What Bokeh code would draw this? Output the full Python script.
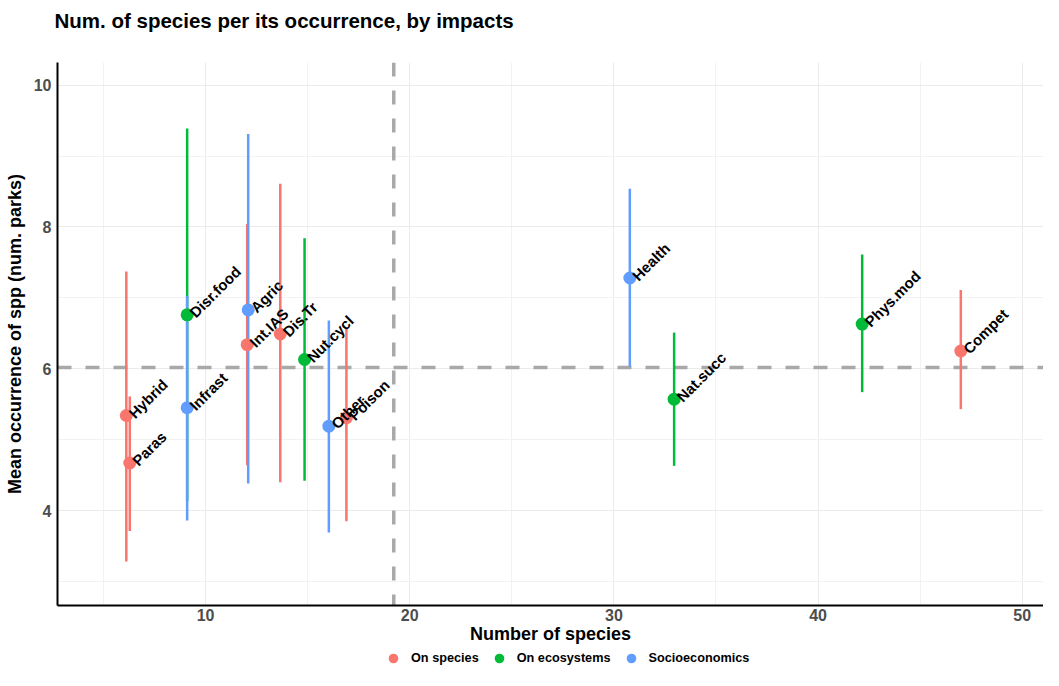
import math
from bokeh.plotting import figure
from bokeh.layouts import column
from bokeh.models import (Range1d, FixedTicker, ColumnDataSource, Span,
                          Legend, LegendItem, Title)
from bokeh.core.properties import value
from bokeh.embed import file_html
from bokeh.resources import INLINE

# ---------------- data ----------------
impacts = ["Hybrid", "Paras", "Disr.food", "Infrast", "Agric", "Int.IAS",
           "Dis.Tr", "Nut.cycl", "Other", "Poison", "Health", "Nat.succ",
           "Phys.mod", "Compet"]
groups = ["On species", "On species", "On ecosystems", "Socioeconomics",
          "Socioeconomics", "On species", "On species", "On ecosystems",
          "Socioeconomics", "On species", "Socioeconomics", "On ecosystems",
          "On ecosystems", "On species"]
n_species = [6.12, 6.29, 9.10, 9.10, 12.09, 12.04, 13.66, 14.85, 16.04,
             16.90, 30.78, 32.95, 42.16, 46.99]
mean_occ = [5.34, 4.67, 6.76, 5.45, 6.83, 6.34, 6.49, 6.13, 5.19, 5.31,
            7.28, 5.57, 6.63, 6.25]
occ_low = [3.28, 3.71, 4.13, 3.86, 4.38, 4.64, 4.40, 4.42, 3.69, 3.85,
           6.03, 4.63, 5.67, 5.43]
occ_high = [7.37, 5.61, 9.39, 7.03, 9.31, 8.04, 8.61, 7.84, 6.68, 6.58,
            8.54, 6.51, 7.61, 7.11]

group_names = ["On species", "On ecosystems", "Socioeconomics"]
group_colors = ["#F8766D", "#00BA38", "#619CFF"]

x_ticks = [10, 20, 30, 40, 50]
x_minor = [5, 15, 25, 35, 45]
y_ticks = [4, 6, 8, 10]
y_minor = [3, 5, 7, 9]

FONT = "Liberation Sans"

mean_x = sum(n_species) / len(n_species)
mean_y = sum(mean_occ) / len(mean_occ)

# ---------------- main figure ----------------
p = figure(width=1043, height=646, output_backend="svg", toolbar_location=None,
           x_range=Range1d(2.75, 51.04), y_range=Range1d(2.66, 10.32),
           min_border_left=57, min_border_right=0, min_border_top=62,
           min_border_bottom=40, background_fill_color="white",
           border_fill_color="white", outline_line_color=None)

# spacer between title and plot frame (added first -> nearest the frame)
p.add_layout(Title(text=" ", text_font_size="1px", standoff=18), "above")

p.title.text = "Num. of species per its occurrence, by impacts"
p.title.text_font = FONT
p.title.text_font_size = "20.5px"
p.title.text_font_style = "bold"
p.title.text_color = "black"
p.title.align = "left"
p.title.vertical_align = "top"
p.title.offset = -3
p.title.standoff = 16

for ax in (p.xaxis[0], p.yaxis[0]):
    ax.axis_line_color = "black"
    ax.axis_line_width = 2
    ax.major_tick_line_color = None
    ax.minor_tick_line_color = None
    ax.major_tick_out = 0
    ax.major_tick_in = 0
    ax.minor_tick_out = 0
    ax.minor_tick_in = 0
    ax.major_label_text_font = FONT
    ax.major_label_text_font_size = "16px"
    ax.major_label_text_font_style = "bold"
    ax.major_label_text_color = "#4D4D4D"
    ax.axis_label_text_font = FONT
    ax.axis_label_text_font_size = "18px"
    ax.axis_label_text_font_style = "bold"
    ax.axis_label_text_color = "black"

p.xaxis.axis_label = "Number of species"
p.yaxis.axis_label = "Mean occurrence of spp (num. parks)"
p.xaxis.ticker = FixedTicker(ticks=x_ticks, minor_ticks=x_minor)
p.yaxis.ticker = FixedTicker(ticks=y_ticks, minor_ticks=y_minor)
p.xaxis.major_label_standoff = 3
p.xaxis.axis_label_standoff = 0
p.yaxis.major_label_standoff = 6
p.yaxis.axis_label_standoff = 6

for g in (p.xgrid[0], p.ygrid[0]):
    g.grid_line_color = "#EBEBEB"
    g.grid_line_width = 1
    g.minor_grid_line_color = "#F2F2F2"
    g.minor_grid_line_width = 1

# reference lines (means)
p.add_layout(Span(location=mean_y, dimension="width", line_color="#A9A9A9",
                  line_width=3.5, line_dash="14 14", level="underlay"))
p.add_layout(Span(location=mean_x, dimension="height", line_color="#A9A9A9",
                  line_width=3.5, line_dash="14 14", level="underlay"))

# ---------------- glyphs ----------------
sources = {}
for gname in group_names:
    idx = [i for i, g in enumerate(groups) if g == gname]
    sources[gname] = ColumnDataSource(dict(
        x=[n_species[i] for i in idx],
        y=[mean_occ[i] for i in idx],
        lo=[occ_low[i] for i in idx],
        hi=[occ_high[i] for i in idx],
        lab=[impacts[i] for i in idx],
    ))

for gname, col in zip(group_names, group_colors):
    p.segment(x0="x", y0="lo", x1="x", y1="hi", source=sources[gname],
              line_color=col, line_width=2.5)

for gname, col in zip(group_names, group_colors):
    p.scatter(x="x", y="y", source=sources[gname], size=13,
              fill_color=col, line_color=col, line_width=0)

all_src = ColumnDataSource(dict(x=n_species, y=mean_occ, lab=impacts))
p.text(x="x", y="y", text="lab", source=all_src, angle=math.pi / 4,
       x_offset=5, y_offset=0, text_align="left", text_baseline="middle",
       text_font=value(FONT), text_font_size="15px",
       text_font_style="bold", text_color="black")

# ---------------- legend strip (frame aligned with the main plot) ----------------
lf = figure(width=1043, height=24, output_backend="svg", toolbar_location=None,
            x_range=Range1d(0, 1), y_range=Range1d(0, 1),
            x_axis_type=None, y_axis_type=None, min_border=0,
            outline_line_color=None, background_fill_color="white",
            border_fill_color="white")
lf.xgrid.visible = False
lf.ygrid.visible = False
key_renderers = []
for gname, col in zip(group_names, group_colors):
    # the group's points lie outside this strip's ranges, so only the key shows
    r = lf.scatter(x="x", y="y", source=sources[gname], size=13,
                   fill_color=col, line_color=col, line_width=0)
    key_renderers.append(r)

legend = Legend(items=[LegendItem(label=g, renderers=[r])
                       for g, r in zip(group_names, key_renderers)],
                orientation="horizontal", location=(324, 0),
                glyph_width=24, glyph_height=24, label_height=24,
                label_standoff=6, spacing=8, padding=0, margin=0,
                border_line_color=None, background_fill_alpha=0,
                label_text_font=FONT, label_text_font_size="12.7px",
                label_text_font_style="bold", label_text_color="black")
lf.add_layout(legend, "center")

layout = column(p, lf, spacing=0)
open("out.html", "w").write(file_html(layout, INLINE))
